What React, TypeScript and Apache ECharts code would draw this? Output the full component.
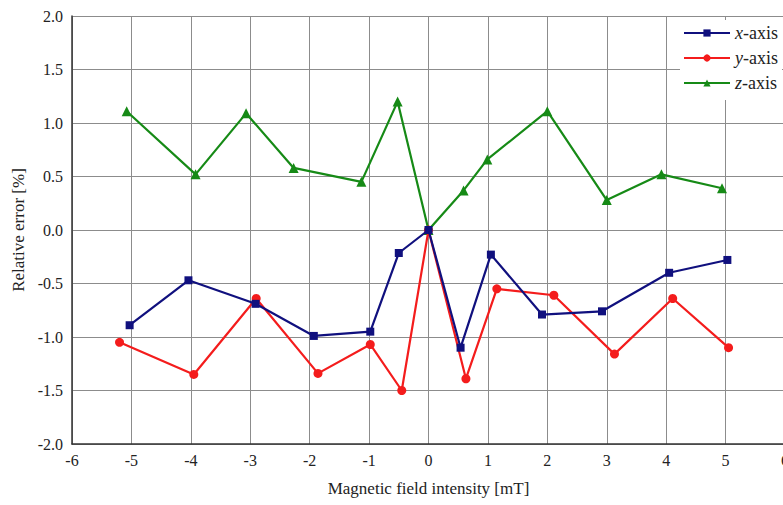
import React, { useEffect, useRef } from "react";
import * as echarts from "echarts";

const xAxisX = [-5.03, -4.04, -2.91, -1.93, -0.98, -0.5, 0, 0.54, 1.05, 1.91, 2.92, 4.05, 5.03];
const xAxisY = [-0.89, -0.47, -0.69, -0.99, -0.95, -0.215, 0, -1.1, -0.23, -0.79, -0.76, -0.4, -0.28];

const yAxisX = [-5.2, -3.95, -2.9, -1.86, -0.98, -0.45, 0, 0.63, 1.15, 2.11, 3.13, 4.11, 5.05];
const yAxisY = [-1.05, -1.35, -0.64, -1.34, -1.07, -1.5, 0, -1.39, -0.55, -0.61, -1.16, -0.64, -1.1];

const zAxisX = [-5.08, -3.92, -3.07, -2.27, -1.13, -0.52, 0, 0.59, 0.99, 2.0, 3.0, 3.92, 4.94];
const zAxisY = [1.11, 0.52, 1.09, 0.58, 0.45, 1.2, 0, 0.37, 0.66, 1.11, 0.28, 0.52, 0.39];

const seriesNames = ["x-axis", "y-axis", "z-axis"];
const seriesColors = ["#10107e", "#f41c1c", "#168a16"];
const seriesSymbols = ["rect", "circle", "triangle"];

const xName = "Magnetic field intensity [mT]";
const yName = "Relative error [%]";

const FONT = "Liberation Serif";

function pairs(xs: number[], ys: number[]) {
  return xs.map((x, i) => [x, ys[i]]);
}

export default function App() {
  const ref = useRef<HTMLDivElement>(null);
  useEffect(() => {
    document.body.style.margin = "0";
    document.body.style.overflow = "hidden";
    if (!ref.current) return;
    const chart = echarts.init(ref.current, null, { renderer: "svg" });
    const datasets = [pairs(xAxisX, xAxisY), pairs(yAxisX, yAxisY), pairs(zAxisX, zAxisY)];
    chart.setOption({
      animation: false,
      backgroundColor: "#ffffff",
      textStyle: { fontFamily: FONT },
      grid: { left: 72, right: -2, top: 16, bottom: 61, containLabel: false, outerBoundsMode: "none" },
      xAxis: {
        type: "value",
        min: -6,
        max: 6,
        interval: 1,
        name: xName,
        nameLocation: "middle",
        nameGap: 36,
        nameTextStyle: { fontFamily: FONT, fontSize: 17, color: "#222" },
        axisLine: { onZero: false, lineStyle: { color: "#333", width: 1.5 } },
        axisTick: { show: false },
        axisLabel: { fontFamily: FONT, fontSize: 16, color: "#222", margin: 8, hideOverlap: false },
        splitLine: { show: true, lineStyle: { color: "#8c8c8c", width: 1 } },
      },
      yAxis: {
        type: "value",
        min: -2,
        max: 2,
        interval: 0.5,
        name: yName,
        nameLocation: "middle",
        nameGap: 41,
        nameTextStyle: { fontFamily: FONT, fontSize: 17, color: "#222" },
        axisLine: { show: true, onZero: false, lineStyle: { color: "#333", width: 1.5 } },
        axisTick: { show: false },
        axisLabel: {
          fontFamily: FONT,
          fontSize: 16,
          color: "#222",
          margin: 9,
          formatter: (v: number) => v.toFixed(1),
        },
        splitLine: { show: true, lineStyle: { color: "#8c8c8c", width: 1 } },
      },
      legend: {
        orient: "vertical",
        left: 680,
        top: 20,
        itemWidth: 46,
        itemHeight: 9,
        itemGap: 7,
        backgroundColor: "#ffffff",
        padding: [4, 4, 8, 3],
        data: seriesNames,
        formatter: (name: string) => `{i|${name.charAt(0)}}{n|${name.slice(1)}}`,
        textStyle: {
          fontFamily: FONT,
          fontSize: 18,
          color: "#222",
          rich: {
            i: { fontFamily: FONT, fontSize: 18, fontStyle: "italic", color: "#222" },
            n: { fontFamily: FONT, fontSize: 18, color: "#222" },
          },
        },
      },
      series: seriesNames.map((name, i) => ({
        name,
        type: "line",
        data: datasets[i],
        symbol: seriesSymbols[i],
        symbolSize: i === 2 ? 10 : i === 0 ? 8 : 9,
        showSymbol: true,
        color: seriesColors[i],
        lineStyle: { color: seriesColors[i], width: 2.2 },
        itemStyle: { color: seriesColors[i] },
        z: 5 - i,
      })),
    });
    return () => chart.dispose();
  }, []);
  return <div ref={ref} style={{ width: 783, height: 505 }} />;
}
